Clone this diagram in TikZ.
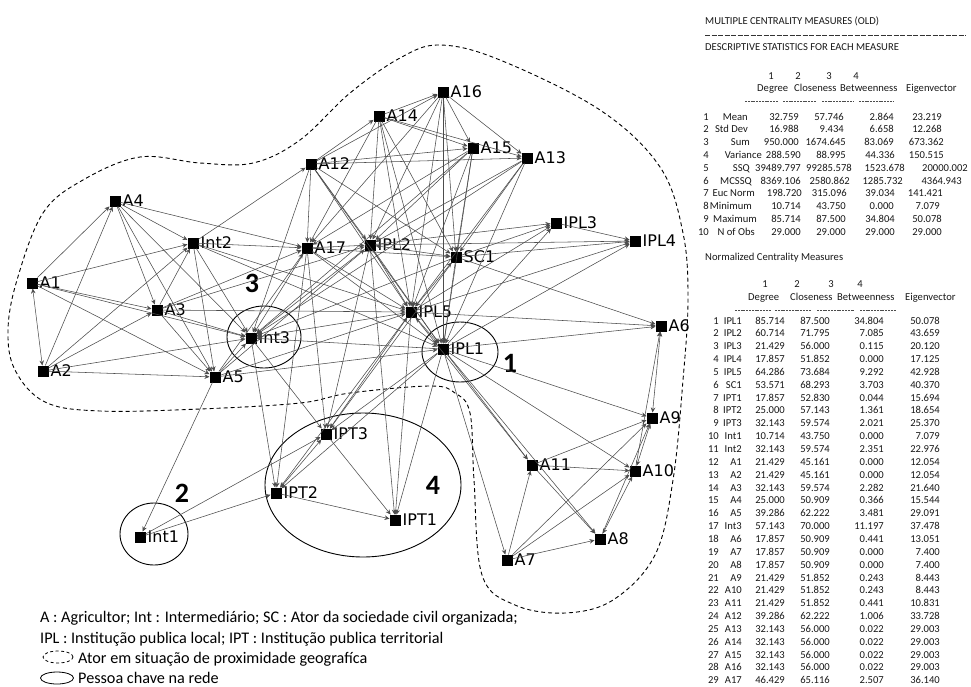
\documentclass[tikz,border=0pt]{standalone}
\usepackage{fontspec}
\setmainfont{Carlito}
\newfontfamily\netfont{DejaVu Sans}
\usetikzlibrary{arrows.meta,shapes.geometric}
\begin{document}
\begin{tikzpicture}[x=1pt,y=-1pt,
  sq/.style={fill=black,minimum size=11pt,inner sep=0pt,outer sep=0pt},
  lab/.style={font=\netfont\fontsize{16}{18}\selectfont,inner sep=0pt,anchor=base west},
  edge/.style={draw=black!70,line width=0.55pt,-{Stealth[length=5pt,width=4.5pt]}},
  bedge/.style={draw=black!70,line width=0.55pt,{Stealth[length=5pt,width=4.5pt]}-{Stealth[length=5pt,width=4.5pt]}},
  keyell/.style={draw=black,line width=0.9pt,ellipse,inner sep=0pt},
  bound/.style={draw=black,line width=0.9pt,dash pattern=on 4pt off 3pt},
  big/.style={font=\fontsize{28}{30}\selectfont\bfseries,inner sep=0pt},
  leg/.style={font=\fontsize{16.2}{18}\selectfont,inner sep=0pt,anchor=base west},
  tt/.style={font=\fontsize{10.6}{12}\selectfont,text=black!90,inner sep=0pt},
]
\useasboundingbox (0,0) rectangle (971,686);
\fill[white] (0,0) rectangle (971,686);

% ---------- dashed proximity boundary
\draw[bound] plot[smooth cycle,tension=0.6] coordinates {
 (17,280) (43,213) (83,180) (140,157) (200,163) (253,163) (300,140) (350,93)
 (400,58) (440,45) (500,60) (600,110) (660,167) (683,233) (688,300) (683,380)
 (673,480) (655,555) (613,600) (565,613) (515,605) (482,575) (474,480) (470,413)
 (455,393) (430,386) (350,393) (300,403) (200,409) (100,411) (45,402) (15,370) (8,330)};

% ---------- key-person ellipses
\node[keyell,minimum width=74pt,minimum height=62pt] (k3) at (264,337) {};
\node[keyell,minimum width=76pt,minimum height=60pt] (k1) at (460,352) {};
\node[keyell,minimum width=68pt,minimum height=62pt] (k2) at (154,534) {};
\node[keyell,minimum width=196pt,minimum height=144pt] (k4) at (363,485) {};

\node[big] (n1) at (510,363) {1};
\node[big] (n2) at (182,493) {2};
\node[big] (n3) at (252,283) {3};
\node[big] (n4) at (433,485) {4};

% ---------- actors
\newcommand\actor[4]{\node[sq] (#1) at (#2,#3) {};
  \node[lab] (#1-l) at ([xshift=2pt,yshift=-5.8pt]#1.east) {#4};}
\actor{A16}{443}{92}{A16}
\actor{A14}{379}{116}{A14}
\actor{A15}{473}{148}{A15}
\actor{A13}{527}{158}{A13}
\actor{A12}{311}{164}{A12}
\actor{A4}{115}{201}{A4}
\actor{Int2}{193}{243}{Int2}
\actor{A17}{307}{248}{A17}
\actor{IPL2}{370}{245}{IPL2}
\actor{SC1}{456}{257}{SC1}
\actor{IPL3}{556}{223}{IPL3}
\actor{IPL4}{635}{241}{IPL4}
\actor{A1}{32}{283}{A1}
\actor{A3}{157}{310}{A3}
\actor{Int3}{251}{338}{Int3}
\actor{IPL5}{411}{312}{IPL5}
\actor{A6}{661}{326}{A6}
\actor{IPL1}{443}{349}{IPL1}
\actor{A2}{43}{371}{A2}
\actor{A5}{215}{377}{A5}
\actor{A9}{652}{418}{A9}
\actor{IPT3}{326}{434}{IPT3}
\actor{A11}{532}{465}{A11}
\actor{A10}{635}{471}{A10}
\actor{IPT2}{276}{493}{IPT2}
\actor{IPT1}{395}{520}{IPT1}
\actor{Int1}{140}{537}{Int1}
\actor{A8}{600}{539}{A8}
\actor{A7}{507}{560}{A7}

% ---------- ties
\foreach \a/\b in {A5/Int1,Int1/IPT2,Int1/IPT3,
 IPL1/A6,IPL5/A6,SC1/A6,A10/A6,
 IPL1/A9,A11/A9,A7/A9,A8/A9,
 A11/A10,A7/A10,IPL1/A10,
 IPL1/A11,IPL5/A11,A7/A11,A11/A8,IPL1/A7,A7/A8,IPL1/A8,
 IPT2/IPT1,IPT3/IPT1,IPL1/IPT1,IPL5/IPT1,IPL2/IPT1,
 Int3/IPT2,A17/IPT2,IPL5/IPT2,IPL1/IPT2,
 IPL1/IPT3,Int3/IPT3,A17/IPT3,IPL2/IPT3,SC1/IPT3,
 A1/Int3,A2/Int3,A3/Int3,A4/Int3,A5/Int3,Int2/Int3,A12/Int3,A17/Int3,
 IPL2/Int3,SC1/Int3,IPL5/Int3,IPL1/Int3,A13/Int3,A15/Int3,
 A1/A4,A1/Int2,A1/A3,A1/A5,
 A2/A4,A2/Int2,A2/A3,A2/A5,
 A4/Int2,A4/A3,A4/A5,A4/A17,
 A3/Int2,A3/A5,A3/A17,A3/IPL2,A3/IPL5,
 Int2/A5,Int2/A17,Int2/A12,Int2/IPL5,
 A5/A17,A5/IPL2,A5/IPL5,A5/IPL1,
 A12/A17,A14/A17,A16/A17,A17/IPL2,A17/IPL5,A15/A17,
 A12/IPL2,A12/A14,A12/A16,A12/A15,A12/SC1,A12/IPL5,A12/IPL1,A12/A13,
 A14/A16,A14/A15,A14/IPL2,A14/SC1,A14/IPL5,A14/IPL1,A14/A13,
 A16/A15,A16/A13,A16/IPL2,A16/SC1,A16/IPL5,A16/IPL1,
 A15/IPL2,A15/SC1,A15/IPL5,A15/IPL1,
 A13/IPL2,A13/SC1,A13/IPL5,A13/IPL1,
 IPL2/IPL3,SC1/IPL3,IPL3/IPL4,IPL5/IPL3,IPL1/IPL3,
 IPL2/IPL4,SC1/IPL4,IPL5/IPL4,IPL1/IPL4,
 SC1/IPL1,A17/SC1,IPL2/IPL5,IPL2/IPL1,A17/IPL1,Int2/IPL1}
 \draw[edge] (\a) -- (\b);
\foreach \a/\b in {A9/A6,A10/A9,A8/A10,A1/A2,IPT3/IPT2,IPL5/IPT3,IPL2/SC1,SC1/IPL5,IPL5/IPL1}
 \draw[bedge] (\a) -- (\b);

% ---------- legend
\node[leg] (l1) at (40,622) {A : Agricultor; Int : Intermediário; SC : Ator da sociedade civil organizada;};
\node[leg] (l2) at (40,643) {IPL : Institução publica local; IPT : Institução publica territorial};
\node[draw=black,line width=0.8pt,dash pattern=on 3pt off 2.5pt,ellipse,minimum width=30pt,minimum height=12pt,inner sep=0pt] (li3) at (58,657) {};
\node[leg] (l3) at (78,663) {Ator em situação de proximidade geografíca};
\node[draw=black,line width=0.8pt,ellipse,minimum width=33pt,minimum height=12pt,inner sep=0pt] (li4) at (57,678) {};
\node[leg] (l4) at (78,683) {Pessoa chave na rede};

% ---------- descriptive statistics table
\node[tt,anchor=base west] (h1) at (705,24) {MULTIPLE CENTRALITY MEASURES (OLD)};
\draw[black!80,line width=0.6pt,dash pattern=on 5pt off 1.5pt] (705,35) -- (966,35);
\node[tt,anchor=base west] (h2) at (705,50) {DESCRIPTIVE STATISTICS FOR EACH MEASURE};
\node[tt,anchor=base] (hc1) at (771,79) {1};
\node[tt,anchor=base] (hc2) at (798,79) {2};
\node[tt,anchor=base] (hc3) at (829,79) {3};
\node[tt,anchor=base] (hc4) at (856,79) {4};
\node[tt,anchor=base west] (hd1) at (757,91) {Degree};
\node[tt,anchor=base west] (hd2) at (794,91) {Closeness};
\node[tt,anchor=base west] (hd3) at (840,91) {Betweenness};
\node[tt,anchor=base west] (hd4) at (906,91) {Eigenvector};
\foreach \x/\y in {745/778,783/816,822/854,859/894}
 \draw[black!70,line width=0.5pt,dash pattern=on 2pt off 0.8pt] (\x,101) -- (\y,101);
\foreach \n/\l/\lx/\a/\ax/\b/\bx/\c/\cx/\d/\dx [count=\i] in {
 1/Mean/748/32.759/799/57.746/844/2.864/894/23.219/942,
 2/Std Dev/748/16.988/799/9.434/844/6.658/894/12.268/942,
 3/Sum/750/950.000/799/1674.645/846/83.069/894/673.362/944,
 4/Variance/762/288.590/801/88.995/846/44.336/895/150.515/944,
 5/SSQ/750/39489.797/801/99285.578/852/1523.678/905/20000.002/968,
 6/MCSSQ/752/8369.106/801/2580.862/850/1285.732/903/4364.943/962,
 7/Euc Norm/755/198.720/802/315.096/847/39.034/895/141.421/943,
 8/Minimum/752/10.714/801/43.750/846/0.000/894/7.079/940,
 9/Maximum/757/85.714/801/87.500/846/34.804/895/50.078/942,
 10/N of Obs/755/29.000/801/29.000/846/29.000/895/29.000/942}{
 \pgfmathsetmacro\yy{120+(\i-1)*12.8}
 \node[tt,anchor=base east] (tn\i) at (709,\yy) {\n};
 \node[tt,anchor=base east] (tl\i) at (\lx,\yy) {\l};
 \node[tt,anchor=base east] (ta\i) at (\ax,\yy) {\a};
 \node[tt,anchor=base east] (tb\i) at (\bx,\yy) {\b};
 \node[tt,anchor=base east] (tc\i) at (\cx,\yy) {\c};
 \node[tt,anchor=base east] (td\i) at (\dx,\yy) {\d};
}

% ---------- normalized table
\node[tt,anchor=base west] (h3) at (705,260) {Normalized Centrality Measures};
\node[tt,anchor=base] (gc1) at (765,287) {1};
\node[tt,anchor=base] (gc2) at (797,287) {2};
\node[tt,anchor=base] (gc3) at (831,287) {3};
\node[tt,anchor=base] (gc4) at (860,287) {4};
\node[tt,anchor=base west] (gd1) at (748,300) {Degree};
\node[tt,anchor=base west] (gd2) at (790,300) {Closeness};
\node[tt,anchor=base west] (gd3) at (837,300) {Betweenness};
\node[tt,anchor=base west] (gd4) at (905,300) {Eigenvector};
\foreach \x/\y in {735/771,775/811,817/854,860/896}
 \draw[black!70,line width=0.5pt,dash pattern=on 2pt off 0.8pt] (\x,310) -- (\y,310);
\foreach \n/\l/\a/\b/\c/\d [count=\i] in {
 1/IPL1/85.714/87.500/34.804/50.078,
 2/IPL2/60.714/71.795/7.085/43.659,
 3/IPL3/21.429/56.000/0.115/20.120,
 4/IPL4/17.857/51.852/0.000/17.125,
 5/IPL5/64.286/73.684/9.292/42.928,
 6/SC1/53.571/68.293/3.703/40.370,
 7/IPT1/17.857/52.830/0.044/15.694,
 8/IPT2/25.000/57.143/1.361/18.654,
 9/IPT3/32.143/59.574/2.021/25.370,
 10/Int1/10.714/43.750/0.000/7.079,
 11/Int2/32.143/59.574/2.351/22.976,
 12/A1/21.429/45.161/0.000/12.054,
 13/A2/21.429/45.161/0.000/12.054,
 14/A3/32.143/59.574/2.282/21.640,
 15/A4/25.000/50.909/0.366/15.544,
 16/A5/39.286/62.222/3.481/29.091,
 17/Int3/57.143/70.000/11.197/37.478,
 18/A6/17.857/50.909/0.441/13.051,
 19/A7/17.857/50.909/0.000/7.400,
 20/A8/17.857/50.909/0.000/7.400,
 21/A9/21.429/51.852/0.243/8.443,
 22/A10/21.429/51.852/0.243/8.443,
 23/A11/21.429/51.852/0.441/10.831,
 24/A12/39.286/62.222/1.006/33.728,
 25/A13/32.143/56.000/0.022/29.003,
 26/A14/32.143/56.000/0.022/29.003,
 27/A15/32.143/56.000/0.022/29.003,
 28/A16/32.143/56.000/0.022/29.003,
 29/A17/46.429/65.116/2.507/36.140}{
 \pgfmathsetmacro\yy{324+(\i-1)*12.85}
 \node[tt,anchor=base east] (un\i) at (719,\yy) {\n};
 \node[tt,anchor=base east] (ul\i) at (742,\yy) {\l};
 \node[tt,anchor=base east] (ua\i) at (785,\yy) {\a};
 \node[tt,anchor=base east] (ub\i) at (830,\yy) {\b};
 \node[tt,anchor=base east] (uc\i) at (884,\yy) {\c};
 \node[tt,anchor=base east] (ud\i) at (940,\yy) {\d};
}
\end{tikzpicture}
\end{document}
